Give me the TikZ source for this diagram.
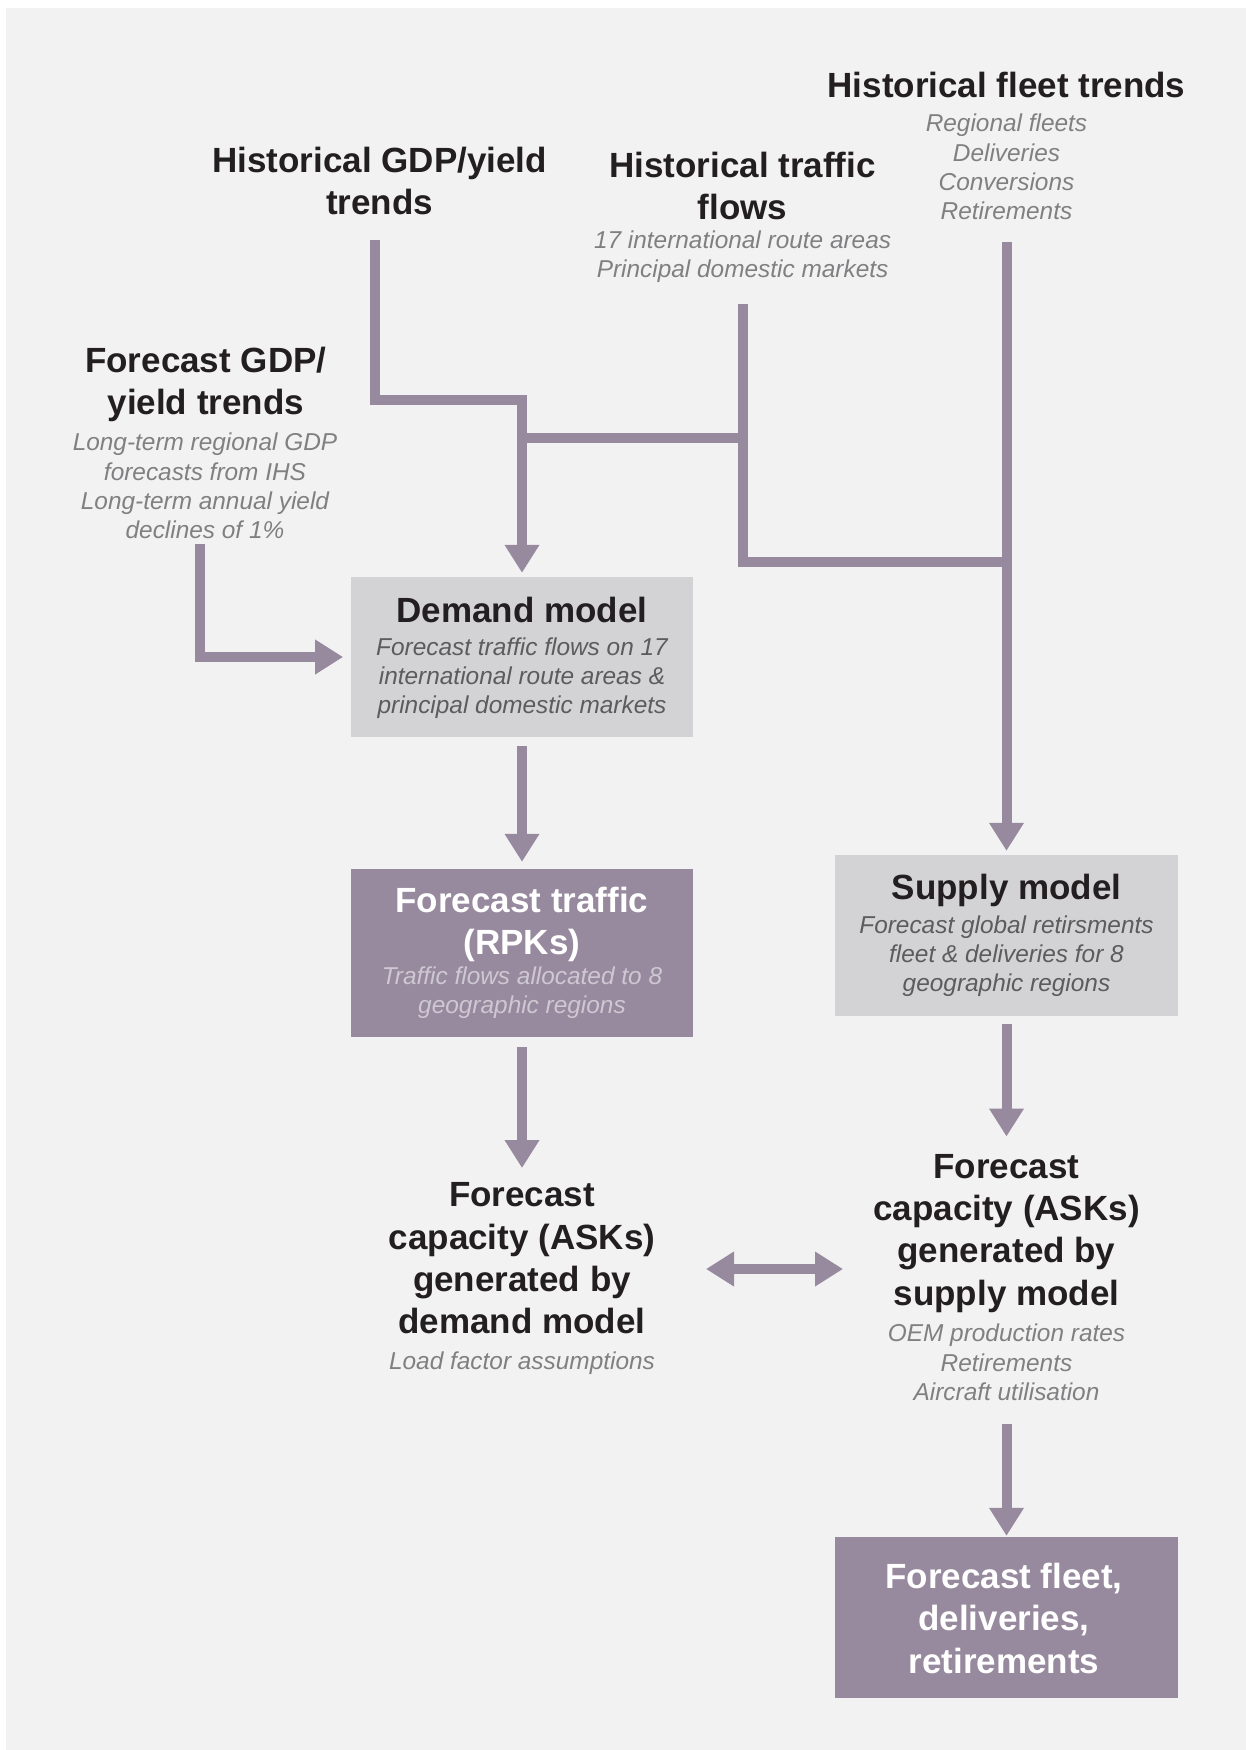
\documentclass[tikz,border=0pt]{standalone}
\usepackage{fontspec}
\setmainfont{Liberation Sans}
\usetikzlibrary{arrows.meta}

\definecolor{canvas}{RGB}{242,242,242}
\definecolor{greyfill}{RGB}{211,211,214}
\definecolor{mauve}{RGB}{151,137,158}
\definecolor{ink}{RGB}{35,31,32}
\definecolor{notegrey}{RGB}{128,128,130}
\definecolor{notedark}{RGB}{92,92,94}
\definecolor{notelight}{RGB}{206,200,210}

\begin{document}
\begin{tikzpicture}[x=1pt,y=-1pt,
  titletxt/.style={font={\fontsize{35}{42.3}\selectfont\bfseries}, text=ink,
    align=center, inner sep=0pt, anchor=north},
  notetxt/.style={font={\fontsize{24.4}{29.2}\selectfont\itshape}, text=notegrey,
    align=center, inner sep=0pt, anchor=north},
  greybox/.style={fill=greyfill, draw=none, inner sep=0pt,
    minimum width=342.4pt},
  mauvebox/.style={fill=mauve, draw=none, inner sep=0pt,
    minimum width=342.4pt},
  pipe/.style={draw=mauve, line width=10pt, line join=miter, line cap=butt},
  flow/.style={pipe, -{Triangle[length=28pt,width=33pt]}},
  twoway/.style={pipe, {Triangle[length=28pt,width=33pt]}-{Triangle[length=28pt,width=33pt]}}
]
\useasboundingbox (0,0) rectangle (1246,1750);
\fill[white] (0,0) rectangle (1246,1750);
\fill[canvas] (6,8) rectangle (1246,1750);

% ---- boxes ----
\node[greybox, minimum height=160.6pt] (dm) at (522,657) {};
\node[mauvebox, minimum height=167.7pt] (ft) at (522,952.85) {};
\node[greybox, minimum height=160.7pt] (sm) at (1006.5,935.35) {};
\node[mauvebox, minimum height=160.4pt] (fin) at (1006.5,1617.5) {};

% ---- inputs ----
\node[titletxt] (hfl) at (1006.5,71.5) {Historical fleet trends};
\node[notetxt] (hflnote) at (1006.5,114.1) {Regional fleets\\Deliveries\\Conversions\\Retirements};

\node[titletxt] (hgdp) at (379.6,146.5) {Historical GDP/yield\\trends};

\node[titletxt] (htr) at (742.6,151.5) {Historical traffic\\flows};
\node[notetxt] (htrnote) at (742.6,230.7) {17 international route areas\\Principal domestic markets};

\node[titletxt] (fgdp) at (205.8,346.5) {Forecast GDP/\\yield trends};
\node[notetxt] (fgdpnote) at (205,433.1) {Long-term regional GDP\\forecasts from IHS\\Long-term annual yield\\declines of 1\%};

% ---- box texts ----
\node[titletxt] (dmt) at (522,596.5) {Demand model};
\node[notetxt, text=notedark] (dmnote) at (522,637.4) {Forecast traffic flows on 17\\international route areas \&\\principal domestic markets};

\node[titletxt, text=white] (ftt) at (522,886.5) {Forecast traffic\\(RPKs)};
\node[notetxt, text=notelight] (ftnote) at (522,966.4) {Traffic flows allocated to 8\\geographic regions};

\node[titletxt] (smt) at (1006.5,874.1) {Supply model};
\node[notetxt, text=notedark] (smnote) at (1006.5,915.7) {Forecast global retirsments\\fleet \& deliveries for 8\\geographic regions};

\node[titletxt] (capD) at (522,1182.5) {Forecast\\capacity (ASKs)\\generated by\\demand model};
\node[notetxt] (capDnote) at (522,1351.7) {Load factor assumptions};

\node[titletxt] (capS) at (1006.5,1154.1) {Forecast\\capacity (ASKs)\\generated by\\supply model};
\node[notetxt] (capSnote) at (1006.5,1324.1) {OEM production rates\\Retirements\\Aircraft utilisation};

\node[titletxt, text=white] (fint) at (1004,1563.1) {Forecast fleet,\\deliveries,\\retirements};

% ---- connector anchors ----
\coordinate (hgdpOut) at (374.5,240);
\coordinate (htrOut) at (742.6,304);
\coordinate (hflOut) at (1006.5,242);
\coordinate (fgdpOut) at (200,544);
\coordinate (bendA) at (0,400);
\coordinate (bendB) at (0,438);
\coordinate (bendC) at (0,562);
\coordinate (dblL) at (706,1269);
\coordinate (dblR) at (843,1269);

% ---- connectors ----
\draw[flow] (hgdpOut) |- (dm.north |- bendA) -- ([yshift=3.7pt]dm.north);
\draw[pipe] (dm.north |- bendB) -- (htrOut |- bendB);
\draw[pipe] (htrOut) |- (hflOut |- bendC);
\draw[flow] (hflOut) -- ([yshift=4pt]sm.north);
\draw[flow] (fgdpOut) |- ([xshift=-7.5pt]dm.west);
\draw[flow] ([yshift=-8.7pt]dm.south) -- ([yshift=7pt]ft.north);
\draw[flow] ([yshift=-10.3pt]ft.south) -- ([yshift=14.5pt]capD.north);
\draw[flow] ([yshift=-8.3pt]sm.south) -- ([yshift=17.6pt]capS.north);
\draw[flow] ([yshift=-23pt]capSnote.south) -- ([yshift=1.3pt]fin.north);
\draw[twoway] (dblL) -- (dblR);
\end{tikzpicture}
\end{document}
